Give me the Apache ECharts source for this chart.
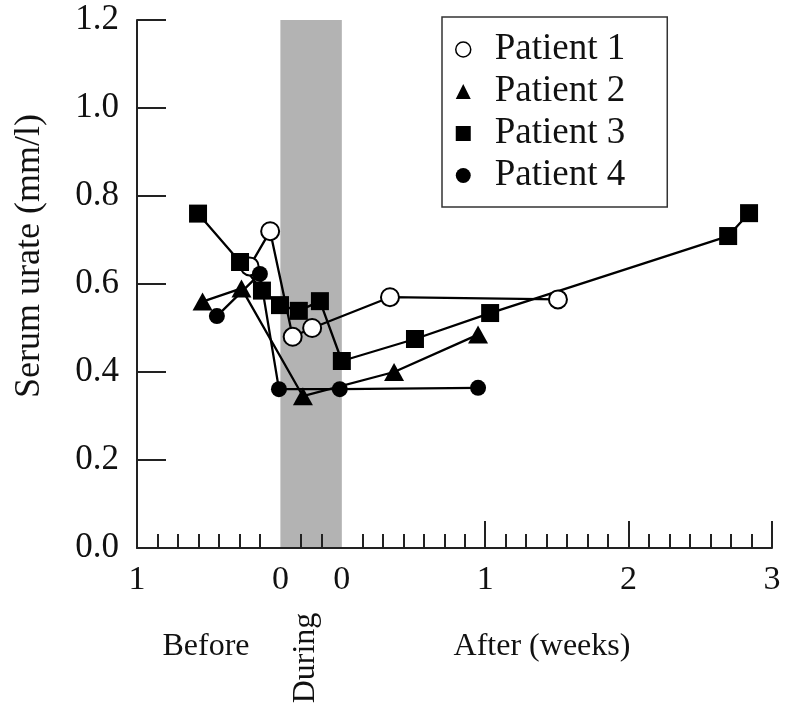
<!DOCTYPE html>
<html>
<head>
<meta charset="utf-8">
<script src="https://cdn.jsdelivr.net/npm/echarts@6/dist/echarts.min.js"></script>
<style>html,body{margin:0;padding:0;background:#fff;}#chart{width:785px;height:710px;}</style>
</head>
<body>
<div id="chart"></div>
<script>
// x values are days on a composite axis: 0..7 = Before (1 -> 0 weeks), 7..10 = During, 10..31 = After (0 -> 3 weeks)
var p1X = [5.5, 6.5, 7.6, 8.55, 12.35, 20.55];
var p1Y = [0.64, 0.72, 0.48, 0.50, 0.57, 0.565];
var p2X = [3.2, 5.1, 8.1, 12.55, 16.65];
var p2Y = [0.56, 0.59, 0.345, 0.40, 0.485];
var p3X = [2.98, 5.03, 6.1, 6.98, 7.9, 8.93, 10.0, 13.57, 17.24, 28.86, 29.88];
var p3Y = [0.76, 0.65, 0.585, 0.552, 0.539, 0.561, 0.425, 0.475, 0.534, 0.709, 0.761];
var p4X = [3.9, 6.0, 6.93, 9.9, 16.65];
var p4Y = [0.527, 0.623, 0.361, 0.361, 0.364];
var seriesNames = ['Patient 1', 'Patient 2', 'Patient 3', 'Patient 4'];
var duringStart = 7, duringEnd = 10;
var xTickValues = [0, 7, 10, 17, 24, 31];
var xTickLabels = ['1', '0', '0', '1', '2', '3'];
var xMinorTicks = [1, 2, 3, 4, 5, 6, 8, 9, 11, 12, 13, 14, 15, 16, 17, 18, 19, 20, 21, 22, 23, 24, 25, 26, 27, 28, 29, 30];
var xMajorTicks = [17, 24, 31];

function pairs(xs, ys) { return xs.map(function (x, i) { return [x, ys[i]]; }); }

var FONT = "'Liberation Serif','Times New Roman',serif";
var chart = echarts.init(document.getElementById('chart'), null, {renderer: 'canvas'});
var lineStyle = {color: '#000', width: 2.3};
var option = {
  animation: false,
  backgroundColor: '#fff',
  grid: {left: 137, right: 13, top: 20, bottom: 162, containLabel: false},
  xAxis: [{
    type: 'value', min: 0, max: 31, interval: 1, z: 3,
    axisLine: {show: true, onZero: false, lineStyle: {color: '#222', width: 2}},
    axisTick: {show: true, inside: true, length: 14, customValues: xMinorTicks, lineStyle: {color: '#222', width: 2}},
    axisLabel: {show: true, customValues: xTickValues, margin: 15, fontFamily: FONT, fontSize: 34, color: '#111',
      formatter: function (v) { var i = xTickValues.indexOf(v); return i >= 0 ? xTickLabels[i] : ''; }},
    splitLine: {show: false}
  }, {
    type: 'value', min: 0, max: 31, interval: 1, z: 3, position: 'bottom',
    axisLine: {show: false},
    axisTick: {show: true, inside: true, length: 27, customValues: xMajorTicks, lineStyle: {color: '#222', width: 2}},
    axisLabel: {show: false},
    splitLine: {show: false}
  }],
  yAxis: {
    type: 'value', min: 0, max: 1.2, interval: 0.2, z: 3,
    axisLine: {show: true, lineStyle: {color: '#222', width: 2}},
    axisTick: {show: true, inside: true, length: 29, lineStyle: {color: '#222', width: 2}},
    axisLabel: {margin: 18, fontFamily: FONT, fontSize: 35, color: '#111', formatter: function (v) { return v.toFixed(1); }},
    splitLine: {show: false}
  },
  legend: {
    orient: 'vertical', left: 442, top: 17,
    padding: [14, 42, 13, 13], itemGap: 5, itemWidth: 15, itemHeight: 15,
    borderColor: '#333', borderWidth: 1.5, backgroundColor: '#fff',
    textStyle: {fontFamily: FONT, fontSize: 37, color: '#111', padding: [0, 0, 0, 19]},
    selectedMode: false,
    data: [
      {name: seriesNames[0], icon: 'circle', itemStyle: {color: '#fff', borderColor: '#000', borderWidth: 1.5}},
      {name: seriesNames[1], icon: 'triangle', itemStyle: {color: '#000', borderWidth: 0}},
      {name: seriesNames[2], icon: 'rect', itemStyle: {color: '#000', borderWidth: 0}},
      {name: seriesNames[3], icon: 'circle', itemStyle: {color: '#000', borderWidth: 0}}
    ]
  },
  graphic: [
    {type: 'text', x: 30, y: 256, rotation: Math.PI / 2, z: 10,
      style: {text: 'Serum urate (mm/l)', fontFamily: FONT, fontSize: 36, fill: '#111', textAlign: 'center', textVerticalAlign: 'middle', align: 'center', verticalAlign: 'middle'}},
    {type: 'text', x: 206, y: 647, z: 10,
      style: {text: 'Before', fontFamily: FONT, fontSize: 32, fill: '#111', textAlign: 'center', textVerticalAlign: 'middle', align: 'center', verticalAlign: 'middle'}},
    {type: 'text', x: 306, y: 658, rotation: Math.PI / 2, z: 10,
      style: {text: 'During', fontFamily: FONT, fontSize: 32, fill: '#111', textAlign: 'center', textVerticalAlign: 'middle', align: 'center', verticalAlign: 'middle'}},
    {type: 'text', x: 542, y: 647, z: 10,
      style: {text: 'After (weeks)', fontFamily: FONT, fontSize: 32, fill: '#111', textAlign: 'center', textVerticalAlign: 'middle', align: 'center', verticalAlign: 'middle'}}
  ],
  series: [
    {type: 'line', name: '_during', data: [], z: 1, silent: true,
      markArea: {silent: true, itemStyle: {color: '#b3b3b3'}, data: [[{xAxis: duringStart, yAxis: 0}, {xAxis: duringEnd, yAxis: 1.2}]]}},
    {type: 'line', name: seriesNames[0], data: pairs(p1X, p1Y), symbol: 'circle', symbolSize: 18,
      lineStyle: lineStyle, itemStyle: {color: '#fff', borderColor: '#000', borderWidth: 2}},
    {type: 'line', name: seriesNames[1], data: pairs(p2X, p2Y), symbol: 'triangle', symbolSize: [20, 18],
      lineStyle: lineStyle, itemStyle: {color: '#000', borderWidth: 0}},
    {type: 'line', name: seriesNames[2], data: pairs(p3X, p3Y), symbol: 'rect', symbolSize: 18,
      lineStyle: lineStyle, itemStyle: {color: '#000', borderWidth: 0}},
    {type: 'line', name: seriesNames[3], data: pairs(p4X, p4Y), symbol: 'circle', symbolSize: 16,
      lineStyle: lineStyle, itemStyle: {color: '#000', borderWidth: 0}}
  ]
};
chart.setOption(option);
</script>
</body>
</html>
